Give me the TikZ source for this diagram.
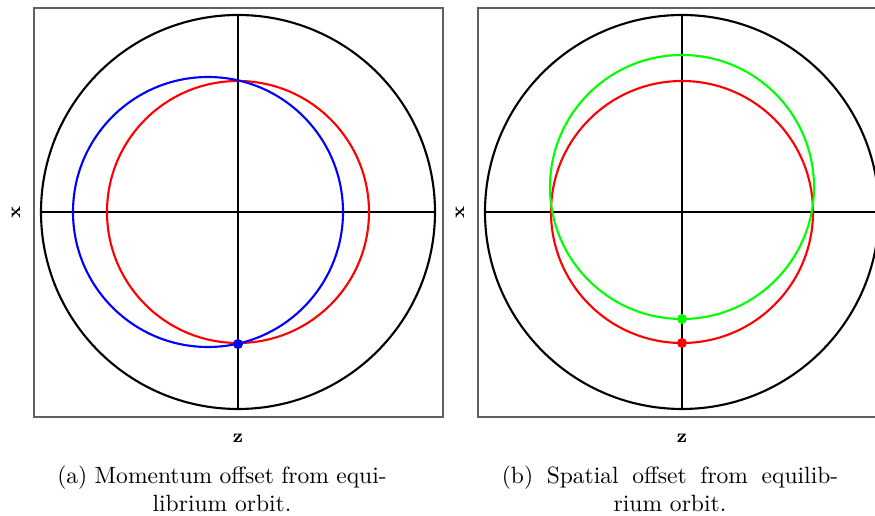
\documentclass[tikz,border=0pt]{standalone}
\usepackage{tikz}
\definecolor{framegray}{HTML}{606060}
\definecolor{eqred}{HTML}{FF0000}
\definecolor{momblue}{HTML}{0000FF}
\definecolor{spagreen}{HTML}{00FF00}

\begin{document}
\begin{tikzpicture}[x=0.425pt, y=-0.425pt, every node/.style={align=center},
  orbit/.style={line width=0.9pt}, axlabel/.style={font=\footnotesize\bfseries},
  caption/.style={anchor=base, inner sep=1pt, font=\fontsize{10}{11.9}\selectfont}]
\clip (0,0) rectangle (875,516);
% (a) momentum offset
\draw[framegray, line width=0.45pt] (34,8) rectangle (443,417);
\draw[orbit] (238,212) circle (197);
\draw[orbit] (238,15) -- (238,409);
\draw[orbit] (41,212) -- (435,212);
\draw[orbit, eqred] (238,212) circle (131);
\draw[orbit, momblue] (208,212) circle (135);
\fill[momblue] (238,344) circle (5);
\node[axlabel, rotate=90] (xa) at (16,212) {x};
\node[axlabel] (za) at (238,438) {z};
\node[caption] (capa) at (222,512)
  {\makebox[140pt][s]{(a) Momentum offset from equi-}\\ librium orbit.};
% (b) spatial offset
\draw[framegray, line width=0.45pt] (478,8) rectangle (887,417);
\draw[orbit] (682,212) circle (197);
\draw[orbit] (682,15) -- (682,409);
\draw[orbit] (485,212) -- (879,212);
\draw[orbit, eqred] (682,212) circle (131);
\draw[orbit, spagreen] (682,187) circle (132);
\fill[spagreen] (682,319) circle (5);
\fill[eqred] (682,343) circle (5);
\node[axlabel, rotate=90] (xb) at (460,212) {x};
\node[axlabel] (zb) at (682,438) {z};
\node[caption] (capb) at (670,512)
  {\makebox[143pt][s]{(b) Spatial offset from equilib-}\\ rium orbit.};
\end{tikzpicture}
\end{document}
